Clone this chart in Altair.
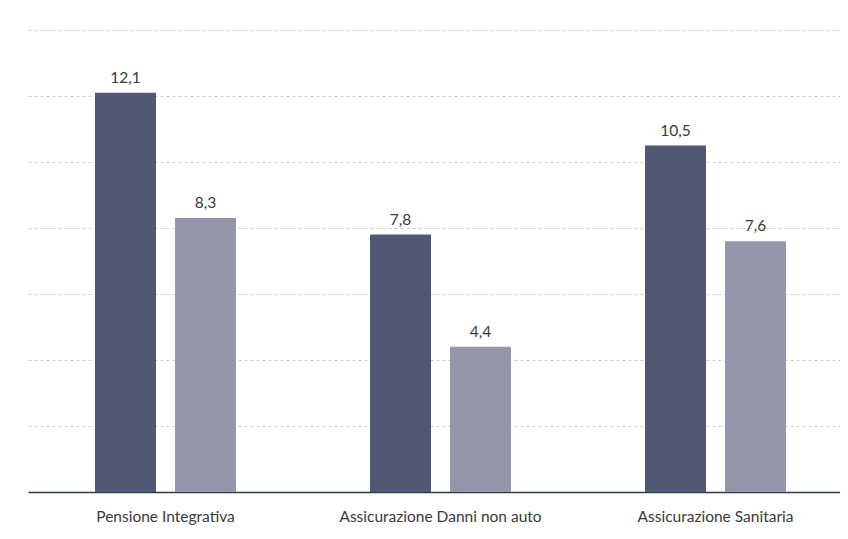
import altair as alt
import pandas as pd

categories = ["Pensione Integrativa", "Assicurazione Danni non auto", "Assicurazione Sanitaria"]
series = ["Serie 1", "Serie 2"]
values_1 = [12.1, 7.8, 10.5]
values_2 = [8.3, 4.4, 7.6]
grid_values = [2, 4, 6, 8, 10, 12, 14]

rows = []
for c, a, b in zip(categories, values_1, values_2):
    rows.append({"categoria": c, "serie": series[0], "valore": a})
    rows.append({"categoria": c, "serie": series[1], "valore": b})
df = pd.DataFrame(rows)

FONT = "Lato"
TEXT = "#3a3a3a"
W, H = 812, 462

x_enc = alt.X(
    "categoria:N",
    sort=categories,
    scale=alt.Scale(domain=categories, range=[0, 825], paddingInner=0, paddingOuter=0),
    axis=alt.Axis(title=None, labelAngle=0, ticks=False, labelPadding=17, labelLimit=400,
                  labelFontSize=15.5, labelColor=TEXT, labelFont=FONT, labelFontWeight="normal",
                  domainColor="#2e3b55", domainWidth=1.5),
)
xo_enc = alt.XOffset(
    "serie:N",
    scale=alt.Scale(domain=series, paddingInner=0.2375, paddingOuter=0.8375),
)
y_enc = alt.Y(
    "valore:Q",
    scale=alt.Scale(domain=[0, 14], nice=False),
    axis=alt.Axis(title=None, labels=False, ticks=False, domain=False, grid=True,
                  values=grid_values, gridDash=[3, 3], gridColor="#cfcfcf", gridWidth=1),
)

bars = alt.Chart(df).mark_bar().encode(
    x=x_enc,
    xOffset=xo_enc,
    y=y_enc,
    color=alt.Color("serie:N", scale=alt.Scale(domain=series, range=["#515874", "#9596a9"]), legend=None),
)

labels = alt.Chart(df).transform_calculate(
    etichetta="replace(format(datum.valore, '.1f'), '.', ',')"
).mark_text(dy=-10, baseline="alphabetic", fontSize=15.5, fontWeight="normal",
            color=TEXT, font=FONT).encode(
    x=alt.X("categoria:N", sort=categories),
    xOffset="serie:N",
    y="valore:Q",
    text="etichetta:N",
)

chart = alt.layer(bars, labels).properties(
    width=W,
    height=H,
    autosize=alt.AutoSizeParams(type="none"),
    padding={"left": 20, "top": 22, "right": 0, "bottom": 38},
    background="white",
).configure_view(strokeWidth=0)

chart.save("out.html", embed_options={"renderer": "svg", "actions": False})
